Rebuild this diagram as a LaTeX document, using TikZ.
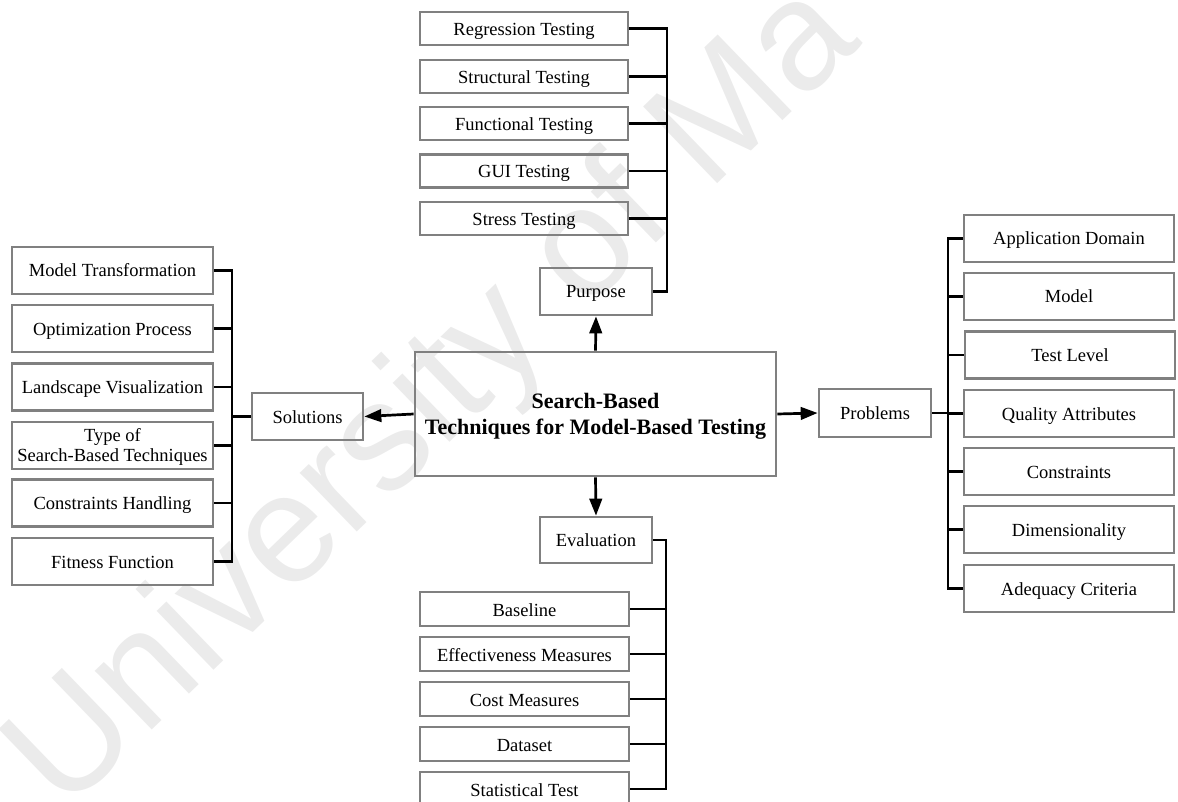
\documentclass[tikz,border=0pt]{standalone}
\usepackage{fontspec}
\setmainfont{Liberation Serif}
\newfontfamily\wmfont{Liberation Sans}
\usetikzlibrary{arrows.meta}
\definecolor{boxgray}{HTML}{808080}
\definecolor{wmgray}{HTML}{EBEBEB}
\newcommand\lblfont{\fontsize{18.5pt}{20.5pt}\selectfont}
\newcommand\ttlfont{\fontsize{22pt}{25.5pt}\selectfont\bfseries}
\tikzset{
  box/.style={draw=boxgray, line width=2.7pt, inner sep=0pt, font=\lblfont,
              text height=13pt, text depth=0pt},
  narrow/.style={box, minimum height=33pt},
  tall/.style={box, minimum height=47pt},
  hub/.style={box, minimum width=112pt, minimum height=47pt},
  conn/.style={line width=2.7pt, black, line join=miter},
  arr/.style={conn, -{Triangle[length=17pt,width=12.5pt]}}
}
\begin{document}
\begin{tikzpicture}[x=1pt,y=-1pt]
\useasboundingbox (0,0) rectangle (1178,802);
\clip (0,0) rectangle (1178,802);

% faint watermark behind everything
\node[rotate=44, anchor=base west, inner sep=0pt, text=wmgray,
      font=\wmfont\fontsize{155pt}{155pt}\selectfont] (wm) at (64,815) {University of Ma};

% central topic
\node[box, font=\ttlfont, align=center, text height=40pt, text depth=0pt,
      minimum width=361pt, minimum height=124pt] (main) at (595.5,414)
  {Search-Based\\Techniques for Model-Based Testing};

% four branches
\node[hub] (purpose) at (596,291.5) {Purpose};
\node[hub, minimum height=46pt] (eval) at (596,540) {Evaluation};
\node[hub, minimum width=111pt] (sol) at (307.5,416.5) {Solutions};
\node[hub, minimum height=48pt] (prob) at (875,413) {Problems};

% purpose leaves
\begin{scope}[every node/.style={narrow, minimum width=208pt, text height=14pt}]
\node (r1) at (524,28.5) {Regression Testing};
\node (r2) at (524,76.5) {Structural Testing};
\node (r3) at (524,123.5) {Functional Testing};
\node (r4) at (524,171) {GUI Testing};
\node (r5) at (524,218.5) {Stress Testing};
\end{scope}

% evaluation leaves
\begin{scope}[every node/.style={narrow, minimum width=209pt, minimum height=34pt, text height=14pt}]
\node (e1) at (524.5,609) {Baseline};
\node (e2) at (524.5,654) {Effectiveness Measures};
\node (e3) at (524.5,699) {Cost Measures};
\node (e4) at (524.5,744) {Dataset};
\node (e5) at (524.5,789) {Statistical Test};
\end{scope}

% solution leaves
\begin{scope}[every node/.style={tall, minimum width=201pt}]
\node (s1) at (112.5,270.5) {Model Transformation};
\node (s2) at (112.5,328.5) {Optimization Process};
\node (s3) at (112.5,387) {Landscape Visualization};
\node[align=center, text height=32.7pt] (s4) at (112.5,445.5) {Type of\\Search-Based Techniques};
\node (s5) at (112.5,503) {Constraints Handling};
\node (s6) at (112.5,561.5) {Fitness Function};
\end{scope}

% problem leaves
\begin{scope}[every node/.style={tall, minimum width=210pt}]
\node (p1) at (1069,238.5) {Application Domain};
\node (p2) at (1069,296.5) {Model};
\node (p3) at (1070,355) {Test Level};
\node (p4) at (1069,413.5) {Quality Attributes};
\node (p5) at (1069,471.5) {Constraints};
\node (p6) at (1069,529.5) {Dimensionality};
\node (p7) at (1069,588.5) {Adequacy Criteria};
\end{scope}

% bus positions
\coordinate (pbus) at (667,0);
\coordinate (ebus) at (666,0);
\coordinate (sbus) at (232,0);
\coordinate (qbus) at (948,0);

% arrows out of the central topic
\draw[arr] (main.north) -- (purpose.south);
\draw[arr] (main.south) -- (eval.north);
\draw[arr] (main.west) -- (sol.east);
\draw[arr] (main.east) -- (prob.west);

% purpose bus
\draw[conn] (r1.east) -- (r1.east -| pbus) -- (purpose.east -| pbus) -- (purpose.east);
\foreach \n in {r2,r3,r4,r5} \draw[conn] (\n.east) -- (\n.east -| pbus);

% evaluation bus
\draw[conn] (eval.east) -- (eval.east -| ebus) -- (e5.east -| ebus) -- (e5.east);
\foreach \n in {e1,e2,e3,e4} \draw[conn] (\n.east) -- (\n.east -| ebus);

% solutions bus
\draw[conn] (s1.east) -- (s1.east -| sbus) -- (s6.east -| sbus) -- (s6.east);
\foreach \n in {s2,s3,s4,s5} \draw[conn] (\n.east) -- (\n.east -| sbus);
\draw[conn] (sol.west) -- (sol.west -| sbus);

% problems bus
\draw[conn] (p1.west) -- (p1.west -| qbus) -- (p7.west -| qbus) -- (p7.west);
\foreach \n in {p2,p3,p4,p5,p6} \draw[conn] (\n.west) -- (\n.west -| qbus);
\draw[conn] (prob.east) -- (prob.east -| qbus);
\end{tikzpicture}
\end{document}
